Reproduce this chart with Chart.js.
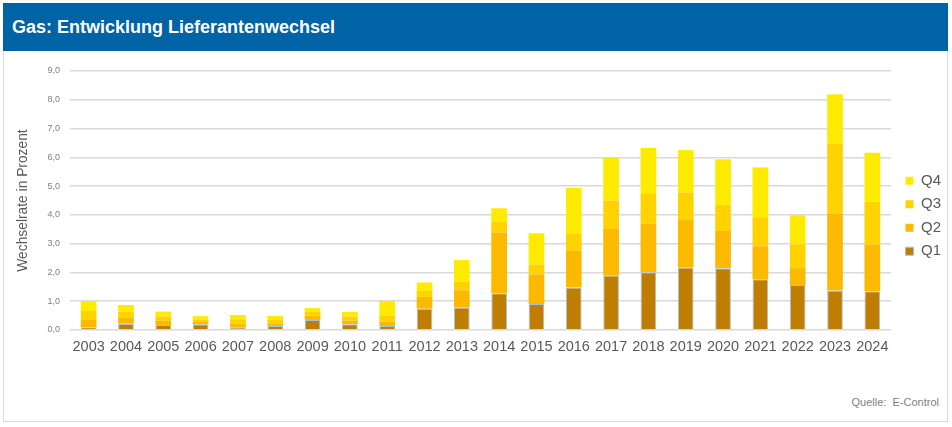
<!DOCTYPE html>
<html>
<head>
<meta charset="utf-8">
<script src="https://cdn.jsdelivr.net/npm/chart.js@4/dist/chart.umd.min.js"></script>
<style>
  body { margin: 0; background: #fff; font-family: "Liberation Sans", Arial, sans-serif; }
  #panel { position: absolute; left: 3px; top: 3px; width: 945px; height: 419px; border: 1px solid #D9D9D9; box-sizing: border-box; }
  #head { position: absolute; left: 3px; top: 3px; width: 945px; height: 48px; background: #0063A6; }
  #head span { position: absolute; left: 9px; top: 14px; color: #fff; font-weight: bold; font-size: 18px; }
  #src { position: absolute; right: 13px; top: 396px; color: #7F7F7F; font-size: 11px; }
  canvas { position: absolute; left: 0; top: 0; }
</style>
</head>
<body>
<div id="panel"></div>
<div id="head"><span>Gas: Entwicklung Lieferantenwechsel</span></div>
<div id="src">Quelle:&nbsp; E-Control</div>
<canvas id="chart" width="952" height="427"></canvas>
<script>
// Jahre
var years = ['2003','2004','2005','2006','2007','2008','2009','2010','2011','2012','2013',
             '2014','2015','2016','2017','2018','2019','2020','2021','2022','2023','2024'];

// Wechselrate je Quartal (Prozent)
var q1 = [0.09,0.22,0.17,0.20,0.08,0.14,0.35,0.20,0.14,0.74,0.78,1.28,0.90,1.48,1.89,2.01,2.17,2.15,1.76,1.56,1.37,1.35];
var q2 = [0.26,0.21,0.15,0.08,0.15,0.09,0.15,0.13,0.15,0.41,0.60,2.11,1.03,1.27,1.62,1.69,1.65,1.29,1.15,0.59,2.67,1.61];
var q3 = [0.31,0.20,0.15,0.08,0.14,0.12,0.13,0.14,0.20,0.21,0.29,0.38,0.35,0.61,0.99,1.05,0.96,0.90,1.01,0.83,2.43,1.50];
var q4 = [0.34,0.24,0.17,0.12,0.15,0.14,0.13,0.16,0.52,0.29,0.76,0.46,1.08,1.58,1.49,1.58,1.47,1.59,1.73,1.01,1.72,1.70];

var yMin = 0, yMax = 9, yStep = 1;

// Legende verschieben (wie im Original)
var legendShift = {
  id: 'legendShift',
  afterLayout: function(chart) {
    chart.legend.top -= 33;
    chart.legend.bottom -= 33;
    chart.legend.left += 6;
    chart.legend.right += 6;
  }
};

var ctx = document.getElementById('chart');

var chart = new Chart(ctx, {
  type: 'bar',
  data: {
    labels: years,
    datasets: [
      { label: 'Q1', data: q1, backgroundColor: '#C07E00', borderColor: '#9DC3E6', borderWidth: 1 },
      { label: 'Q2', data: q2, backgroundColor: '#FBB900' },
      { label: 'Q3', data: q3, backgroundColor: '#FFD200' },
      { label: 'Q4', data: q4, backgroundColor: '#FFEB00' }
    ]
  },
  options: {
    responsive: false,
    animation: false,
    events: [],
    categoryPercentage: 1,
    barPercentage: 0.42,
    layout: { padding: { top: 71, right: 7, bottom: 0, left: 3 } },
    plugins: {
      tooltip: { enabled: false },
      legend: {
        position: 'right',
        reverse: true,
        labels: {
          boxWidth: 8,
          boxHeight: 8,
          padding: 8.5,
          color: '#595959',
          font: { family: 'Liberation Sans', size: 15 }
        }
      }
    },
    scales: {
      x: {
        stacked: true,
        grid: { display: false },
        border: { display: false },
        ticks: {
          color: '#595959',
          padding: 0,
          maxRotation: 0,
          autoSkip: false,
          font: { family: 'Liberation Sans', size: 14.5 }
        },
        afterFit: function(scale) { scale.height = 97; }
      },
      y: {
        stacked: true,
        min: yMin,
        max: yMax,
        border: { display: false },
        grid: { color: '#D9D9D9', lineWidth: 1.5, drawTicks: false },
        ticks: {
          stepSize: yStep,
          padding: 10,
          color: '#7F7F7F',
          font: { family: 'Liberation Sans', size: 9 },
          callback: function(v) { return v.toFixed(1).replace('.', ','); }
        },
        title: {
          display: true,
          text: 'Wechselrate in Prozent',
          color: '#595959',
          padding: { top: 12, bottom: 0 },
          font: { family: 'Liberation Sans', size: 13.8 }
        },
        afterFit: function(scale) { scale.width = 67; }
      }
    }
  },
  plugins: [legendShift]
});
</script>
</body>
</html>
